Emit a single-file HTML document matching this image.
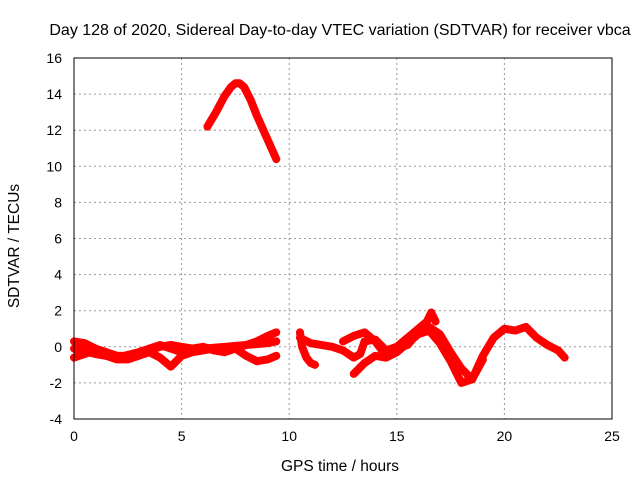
<!DOCTYPE html>
<html><head><meta charset="utf-8"><style>
body{margin:0;background:#fff}
svg{display:block;font-family:"Liberation Sans",sans-serif}
</style></head><body>
<svg id="chart" width="640" height="480" viewBox="0 0 640 480">
<rect width="640" height="480" fill="#fff"/>
<text x="340" y="35" font-size="16" text-anchor="middle">Day 128 of 2020, Sidereal Day-to-day VTEC variation (SDTVAR) for receiver vbca</text>
<g id="grid"></g>
<g id="series"></g>
<rect x="74" y="58" width="538" height="361" fill="none" stroke="#000" stroke-width="1"/>
<g id="ticks"></g>
<text x="340" y="471" font-size="15.5" text-anchor="middle">GPS time / hours</text>
<text x="19" y="246" font-size="15.5" text-anchor="middle" transform="rotate(-90 19 246)">SDTVAR / TECUs</text>
</svg>
<script>
const xTicks=[0,5,10,15,20,25];
const yTicks=[-4,-2,0,2,4,6,8,10,12,14,16];
const humpH=[6.2,6.6,7.0,7.3,7.5,7.7,7.9,8.2,8.5,8.8,9.1,9.4];
const humpV=[12.2,13.0,13.9,14.4,14.6,14.6,14.4,13.7,12.8,12.0,11.2,10.4];
const aH=[0,0.5,1,1.5,2,2.5,3,3.5,4,4.5,5,5.5,6,6.5,7,7.5,8,8.5,9,9.4];
const aV=[0.3,0.2,-0.1,-0.3,-0.5,-0.5,-0.4,-0.2,0.0,0.1,0.0,-0.1,0.0,-0.2,-0.3,-0.1,0.1,0.3,0.6,0.8];
const bH=[0,0.5,1,1.5,2,2.5,3,3.5,4,4.5,5,5.5,6,6.5,7,7.5,8,8.5,9,9.4];
const bV=[-0.6,-0.4,-0.2,-0.5,-0.7,-0.7,-0.5,-0.3,-0.6,-1.1,-0.5,-0.3,-0.2,-0.1,-0.2,-0.1,-0.5,-0.8,-0.7,-0.5];
const cH=[0,1,2,3,4,5,6,7,8,9,9.4];
const cV=[-0.1,-0.4,-0.6,-0.3,0.1,-0.3,-0.1,0.0,0.1,0.2,0.3];
const dH=[10.5,10.6,10.8,11.0,11.2];
const dV=[0.8,0.0,-0.6,-0.9,-1.0];
const eH=[10.5,11,12,12.5,13,13.3,13.5,14,14.5,15,15.5,16,16.5,17,17.5,18,18.5,19,19.5,20,20.5,21,21.5,22,22.5,22.8];
const eV=[0.5,0.2,0.0,-0.2,-0.6,-0.4,0.3,0.4,-0.2,0.0,0.1,0.8,1.1,0.7,-0.3,-1.2,-1.8,-0.5,0.5,1.0,0.9,1.1,0.5,0.1,-0.2,-0.6];
const fH=[13,13.5,14,14.5,15,15.5,16,16.5,17,17.5,18,18.5,19];
const fV=[-1.5,-0.9,-0.5,-0.6,-0.3,0.2,0.7,0.9,0.2,-0.8,-2.0,-1.8,-0.7];
const gH=[12.5,13,13.5,14,14.5,16.4,16.6,16.8];
const gV=[0.3,0.6,0.8,0.3,-0.5,1.4,1.9,1.4];
const NS='http://www.w3.org/2000/svg';
const X=h=>74+h*538/25;
const Y=v=>419-(v+4)*361/20;
const grid=document.getElementById('grid'),ticks=document.getElementById('ticks'),ser=document.getElementById('series');
function mk(t,a,p){const e=document.createElementNS(NS,t);for(const k in a)e.setAttribute(k,a[k]);p.appendChild(e);return e;}
xTicks.forEach(t=>{
 if(t>0&&t<25){const l=mk('line',{x1:X(t),x2:X(t),y1:58,y2:419,stroke:'#999','stroke-dasharray':'2,3'},grid);
 
 }
 const tx=mk('text',{x:X(t),y:441,'font-size':14,'text-anchor':'middle'},ticks);tx.textContent=t;
 
 
});
yTicks.forEach(t=>{
 if(t>-4&&t<16){const l=mk('line',{x1:74,x2:612,y1:Y(t),y2:Y(t),stroke:'#999','stroke-dasharray':'2,3'},grid);
 
 }
 const tx=mk('text',{x:62,y:Y(t)+5,'font-size':14,'text-anchor':'end'},ticks);tx.textContent=t;
 
 
});
[[humpH,humpV,'series-hump'],[aH,aV,'series-a'],[bH,bV,'series-b'],[cH,cV,'series-c'],[dH,dV,'series-d'],[eH,eV,'series-e'],[fH,fV,'series-f'],[gH,gV,'series-g']].forEach(([hs,vs,n])=>{
 const pts=hs.map((h,i)=>X(h)+','+Y(vs[i])).join(' ');
 const p=mk('polyline',{points:pts,fill:'none',stroke:'#f00','stroke-width':8,'stroke-linejoin':'round','stroke-linecap':'round'},ser);
 
 
});
</script>
</body></html>
